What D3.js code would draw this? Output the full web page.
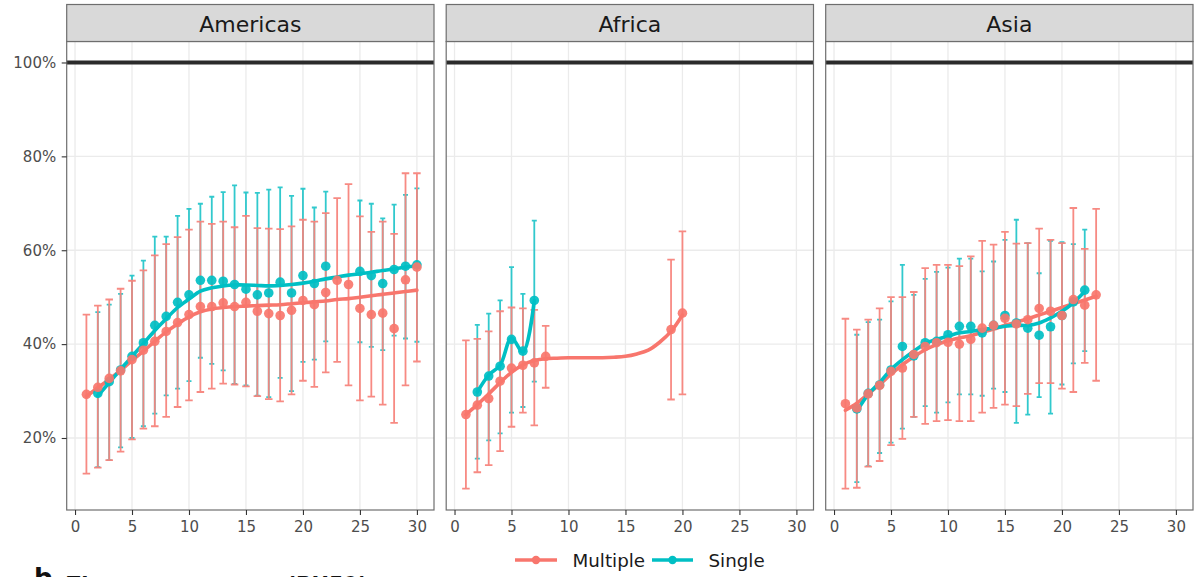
<!DOCTYPE html>
<html>
<head>
<meta charset="utf-8">
<script src="https://cdn.jsdelivr.net/npm/d3@7"></script>
<style>
  html, body { margin: 0; padding: 0; background: #fff; }
  svg { display: block; font-family: "DejaVu Sans", sans-serif; }
</style>
</head>
<body>
<svg id="chart" width="1195" height="577"></svg>
<script>
// ---- categories and ticks ----
const regions = ["Americas", "Africa", "Asia"];
const groups = ["Multiple", "Single"];
const groupColors = ["#F8766D", "#00BFC4"];
const barColors = ["#F7847C", "#1BC3C8"];
const xTicks = [0, 5, 10, 15, 20, 25, 30];
const yTicks = [20, 40, 60, 80, 100];
const yTickLabels = ["20%", "40%", "60%", "80%", "100%"];
const refLine = 100;

// ---- Americas ----
const amMultX  = [1,2,3,4,5,6,7,8,9,10,11,12,13,14,15,16,17,18,19,20,21,22,23,24,25,26,27,28,29,30];
const amMultY  = [29.3,30.8,32.7,34.3,36.7,38.7,40.6,42.7,44.6,46.3,48.0,48.0,48.8,48.0,48.9,47.0,46.5,46.1,47.2,49.3,48.4,51.0,53.6,52.7,47.6,46.3,46.6,43.3,53.7,56.4];
const amMultHi = [46.3,48.2,49.5,51.8,53.5,55.7,58.9,61.3,62.8,64.4,66.1,65.6,66.1,64.9,67.3,64.7,64.6,64.5,65.1,66.5,66.1,67.9,71.1,74.1,67.2,63.9,66.1,63.5,76.4,76.4];
const amMultLo = [12.4,13.7,15.3,17.1,19.7,22.0,22.5,24.5,26.6,28.0,29.8,30.5,31.6,31.4,31.0,28.9,28.3,27.8,29.3,32.2,30.9,34.0,36.2,31.2,28.0,28.8,27.1,23.2,31.2,36.3];
const amMultFitX = [1,2,3,4,5,6,7,8,9,10,11,12,13,14,15,16,17,18,19,20,21,22,23,24,25,26,27,28,29,30];
const amMultFitY = [28.9,30.7,32.5,34.4,36.5,38.5,40.6,42.6,44.3,45.8,46.9,47.5,47.8,48.0,48.1,48.2,48.3,48.4,48.6,48.8,49.0,49.2,49.5,49.7,50.0,50.3,50.6,50.9,51.2,51.5];

const amSingX  = [2,3,4,5,6,7,8,9,10,11,12,13,14,15,16,17,18,19,20,21,22,25,26,27,28,29,30];
const amSingY  = [29.5,32.0,34.5,37.4,40.3,44.0,45.9,48.9,50.5,53.6,53.6,53.4,52.7,51.7,50.5,50.9,53.2,50.9,54.6,52.9,56.6,55.5,54.6,52.9,55.9,56.6,56.9];
const amSingHi = [46.8,48.4,50.7,54.6,57.8,62.9,62.9,67.3,68.8,69.9,71.4,72.4,73.8,72.3,72.2,72.9,73.4,71.6,73.1,69.1,72.5,70.6,69.9,66.8,69.7,71.8,73.2];
const amSingLo = [13.8,15.3,18.0,20.0,22.5,25.2,29.1,30.5,32.1,37.1,35.8,34.4,31.5,31.2,29.0,28.7,32.8,30.0,36.2,36.7,40.6,40.4,39.4,38.7,41.8,41.2,40.5];
const amSingFitX = [2,3,4,5,6,7,8,9,10,11,12,13,14,15,16,17,18,19,20,21,22,23,24,25,26,27,28,29,30];
const amSingFitY = [29.0,31.8,34.6,37.4,40.1,42.9,45.4,47.8,49.6,51.3,52.0,52.4,52.6,52.6,52.5,52.4,52.5,52.7,53.0,53.4,53.9,54.3,54.7,55.0,55.3,55.7,56.0,56.4,56.7];

// ---- Africa ----
const afMultX  = [1,2,3,4,5,6,7,8,19,20];
const afMultY  = [25.0,27.0,28.4,32.1,34.9,35.5,36.0,37.4,43.1,46.6];
const afMultHi = [40.8,41.1,42.7,47.0,47.8,47.6,47.3,43.9,58.0,64.0];
const afMultLo = [9.2,12.7,14.2,17.2,22.4,25.4,22.7,30.7,28.2,29.3];
const afMultFitX = [1,2,3,4,5,6,7,8,9,10,11,12,13,14,15,16,17,18,19,20];
const afMultFitY = [25.0,27.1,29.4,31.8,34.0,35.6,36.5,36.9,37.0,37.1,37.1,37.1,37.1,37.2,37.4,37.9,38.7,40.4,42.7,46.2];

const afSingX  = [2,3,4,5,6,7];
const afSingY  = [29.8,33.2,35.3,41.0,38.5,49.3];
const afSingHi = [44.1,46.5,49.3,56.4,50.7,66.3];
const afSingLo = [15.6,19.5,21.0,25.4,26.6,32.0];
const afSingFitX = [2,3,4,5,6,7];
const afSingFitY = [29.8,33.4,35.5,41.3,38.3,49.3];

// ---- Asia ----
const asMultX  = [1,2,3,4,5,6,7,8,9,10,11,12,13,14,15,16,17,18,19,20,21,22,23];
const asMultY  = [27.3,26.4,29.4,31.2,34.2,34.9,37.8,39.5,40.3,40.4,40.0,41.0,43.4,44.0,45.5,44.3,45.2,47.6,47.0,46.1,49.5,48.3,50.5];
const asMultHi = [45.4,43.1,45.2,47.6,50.0,50.0,51.1,56.2,56.9,56.9,56.6,58.7,62.0,61.2,63.9,61.4,61.5,64.6,62.2,61.5,69.0,60.3,68.8];
const asMultLo = [9.2,9.4,13.9,15.1,18.5,19.8,24.5,23.0,23.6,23.8,23.6,23.6,25.4,26.4,27.1,26.8,29.4,31.7,31.7,30.5,29.8,36.0,32.2];
const asMultFitX = [1,2,3,4,5,6,7,8,9,10,11,12,13,14,15,16,17,18,19,20,21,22,23];
const asMultFitY = [25.9,27.4,29.4,31.4,33.6,35.6,37.3,38.8,39.9,40.7,41.3,41.8,42.5,43.2,44.0,44.7,45.4,46.2,47.0,47.8,48.6,49.4,50.2];

const asSingX  = [2,3,4,5,6,7,8,9,10,11,12,13,14,15,16,17,18,19,20,21,22];
const asSingY  = [26.2,29.5,31.3,34.5,39.5,37.5,40.3,40.6,42.0,43.8,43.8,42.4,44.0,46.1,44.5,43.4,41.9,43.7,46.1,49.0,51.5];
const asSingHi = [42.0,44.7,45.2,49.1,56.9,50.5,53.9,55.4,56.3,58.2,58.2,55.5,57.6,62.2,66.5,61.5,55.1,62.0,61.7,61.3,64.4];
const asSingLo = [10.6,14.0,16.8,19.0,22.0,24.5,26.8,25.4,27.6,29.3,29.3,29.0,30.5,29.8,23.2,25.0,28.7,25.2,31.4,35.9,38.5];
const asSingFitX = [2,3,4,5,6,7,8,9,10,11,12,13,14,15,16,17,18,19,20,21,22];
const asSingFitY = [25.7,29.3,31.8,34.6,36.7,38.5,40.1,41.0,41.7,42.4,42.7,43.1,43.4,43.8,44.0,44.0,44.5,45.6,47.0,48.8,51.2];

// Assemble per-panel series tables from the arrays above
function series(x, y, lo, hi, fx, fy) {
  return {
    pts: x.map((v, i) => ({ x: v, y: y[i], lo: lo[i], hi: hi[i] })),
    fit: fx.map((v, i) => ({ x: v, y: fy[i] }))
  };
}
const panels = [
  [series(amMultX, amMultY, amMultLo, amMultHi, amMultFitX, amMultFitY),
   series(amSingX, amSingY, amSingLo, amSingHi, amSingFitX, amSingFitY)],
  [series(afMultX, afMultY, afMultLo, afMultHi, afMultFitX, afMultFitY),
   series(afSingX, afSingY, afSingLo, afSingHi, afSingFitX, afSingFitY)],
  [series(asMultX, asMultY, asMultLo, asMultHi, asMultFitX, asMultFitY),
   series(asSingX, asSingY, asSingLo, asSingHi, asSingFitX, asSingFitY)]
];

// ---- layout ----
const svg = d3.select("#chart");
const panelLeft = [66.7, 446.2, 825.7];
const panelW = 367.3;
const stripTop = 4.5, plotTop = 41.5, plotBottom = 510;
const capHalf = [0.33, 0.22];

const y = d3.scaleLinear().domain([4.66, 104.47]).range([plotBottom, plotTop]);

regions.forEach((region, pi) => {
  const left = panelLeft[pi];
  const x = d3.scaleLinear().domain([-0.73, 31.5]).range([left, left + panelW]);
  const g = svg.append("g");

  // background grid
  g.append("g").selectAll("line.vg").data(xTicks).join("line")
    .attr("x1", d => x(d)).attr("x2", d => x(d))
    .attr("y1", plotTop).attr("y2", plotBottom)
    .attr("stroke", "#EBEBEB").attr("stroke-width", 1.3);
  g.append("g").selectAll("line.hg").data(yTicks).join("line")
    .attr("x1", left).attr("x2", left + panelW)
    .attr("y1", d => y(d)).attr("y2", d => y(d))
    .attr("stroke", "#EBEBEB").attr("stroke-width", 1.3);

  // reference line at 100%
  g.append("line")
    .attr("x1", left).attr("x2", left + panelW)
    .attr("y1", y(refLine)).attr("y2", y(refLine))
    .attr("stroke", "#2B2B2B").attr("stroke-width", 4);

  const data = panels[pi];
  const drawOrder = [1, 0];

  // error bars
  drawOrder.forEach(gi => {
    const eb = g.append("g").attr("stroke", barColors[gi]).attr("stroke-width", 1.8)
      .attr("stroke-opacity", gi === 0 ? 0.95 : 0.9).attr("fill", "none");
    eb.selectAll("path").data(data[gi].pts).join("path")
      .attr("d", d => {
        const x0 = x(d.x - capHalf[gi]), x1 = x(d.x + capHalf[gi]), xc = x(d.x);
        return `M${x0},${y(d.hi)}H${x1}M${xc},${y(d.hi)}V${y(d.lo)}M${x0},${y(d.lo)}H${x1}`;
      });
  });

  // smoothed trend lines
  const line = d3.line().x(d => x(d.x)).y(d => y(d.y)).curve(d3.curveCatmullRom.alpha(0.5));
  [0, 1].forEach(gi => {
    g.append("path").datum(data[gi].fit)
      .attr("d", line).attr("fill", "none")
      .attr("stroke", groupColors[gi]).attr("stroke-width", 3.6)
      .attr("stroke-linejoin", "round").attr("stroke-linecap", "round");
  });

  // points
  drawOrder.forEach(gi => {
    g.append("g").selectAll("circle").data(data[gi].pts).join("circle")
      .attr("cx", d => x(d.x)).attr("cy", d => y(d.y)).attr("r", 4.8)
      .attr("fill", groupColors[gi]).attr("fill-opacity", 0.92);
  });

  // panel border
  g.append("rect")
    .attr("x", left).attr("y", plotTop).attr("width", panelW).attr("height", plotBottom - plotTop)
    .attr("fill", "none").attr("stroke", "#6E6E6E").attr("stroke-width", 1.2);

  // strip
  g.append("rect")
    .attr("x", left).attr("y", stripTop).attr("width", panelW).attr("height", plotTop - stripTop)
    .attr("fill", "#D9D9D9").attr("stroke", "#6E6E6E").attr("stroke-width", 1.2);
  g.append("text")
    .attr("x", left + panelW / 2).attr("y", 31.5)
    .attr("text-anchor", "middle").attr("font-size", 22).attr("fill", "#1A1A1A")
    .text(region);

  // x axis
  const xAxis = d3.axisBottom(x).tickValues(xTicks).tickSize(5).tickPadding(6.4);
  const xa = g.append("g").attr("transform", `translate(0,${plotBottom})`).call(xAxis);
  xa.select(".domain").remove();
  xa.selectAll(".tick line").attr("stroke", "#333").attr("stroke-width", 1.1);
  xa.selectAll(".tick text").attr("font-size", 15).attr("fill", "#4D4D4D")
    .attr("font-family", "DejaVu Sans, sans-serif");

  // y axis on the first panel only
  if (pi === 0) {
    const yAxis = d3.axisLeft(y).tickValues(yTicks).tickSize(5).tickPadding(5.5)
      .tickFormat((d, i) => yTickLabels[i]);
    const ya = g.append("g").attr("transform", `translate(${left},0)`).call(yAxis);
    ya.select(".domain").remove();
    ya.selectAll(".tick line").attr("stroke", "#333").attr("stroke-width", 1.1);
    ya.selectAll(".tick text").attr("font-size", 15).attr("fill", "#4D4D4D")
      .attr("font-family", "DejaVu Sans, sans-serif");
  }
});

// ---- legend ----
const legend = svg.append("g");
const legendItems = [
  { x0: 515, x1: 557, tx: 572.5 },
  { x0: 652, x1: 693, tx: 708.5 }
];
groups.forEach((name, gi) => {
  const it = legendItems[gi];
  legend.append("line")
    .attr("x1", it.x0).attr("x2", it.x1).attr("y1", 560).attr("y2", 560)
    .attr("stroke", groupColors[gi]).attr("stroke-width", 3.6);
  legend.append("circle")
    .attr("cx", (it.x0 + it.x1) / 2).attr("cy", 560).attr("r", 4.2)
    .attr("fill", groupColors[gi]);
  legend.append("text")
    .attr("x", it.tx).attr("y", 566.5).attr("font-size", 18.3).attr("fill", "#1A1A1A")
    .text(name);
});

// ---- next section heading (runs past the bottom edge) ----
svg.append("text").attr("x", 34).attr("y", 587).attr("font-size", 26)
  .attr("font-weight", "bold").attr("fill", "#111").text("b");
svg.append("text").attr("x", 66).attr("y", 592).attr("font-size", 21)
  .attr("font-weight", "bold").attr("fill", "#111").text("Zimmerman score (PH59)");
</script>
</body>
</html>
